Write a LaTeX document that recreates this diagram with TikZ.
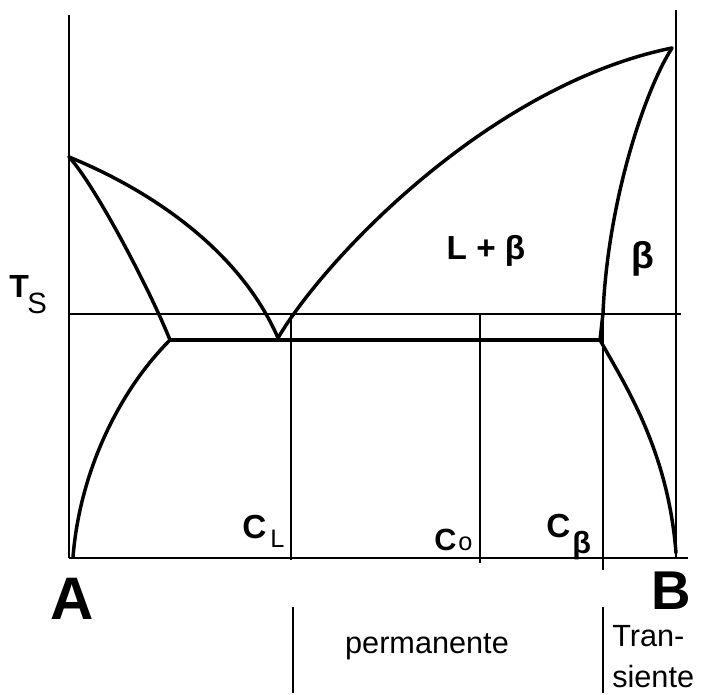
\documentclass[tikz,border=0pt]{standalone}
\usepackage{fontspec}
\setmainfont{Liberation Sans}
\begin{document}
\begin{tikzpicture}[x=0.75pt, y=-0.75pt,
	axis/.style={line width=0.8pt},
	curve/.style={line width=2.6pt, line join=round, line cap=round},
	guide/.style={line width=1.4pt},
	lbl/.style={inner sep=0pt, font=\fontsize{25}{28}\selectfont\bfseries}]
				\useasboundingbox (0,0) rectangle (706,695);

				% Key points
				\coordinate (meltA) at (69,157);
				\coordinate (meltB) at (672,48);
				\coordinate (eut) at (278,338);
				\coordinate (solA) at (170,340);
				\coordinate (solB) at (600,340);

				% Axes
				\draw[axis] (69,15) -- (69,558);
				\draw[axis] (676,10) -- (676,558);
				\draw[axis] (69,558) -- (688,558);

				% Temperature line
				\draw[guide] (69,314) -- (681,314);

				% Liquidus
				\draw[curve] (meltA) .. controls (150,190) and (240,250) .. (eut);
				\draw[curve] (eut) .. controls (325,258) and (490,85) .. (meltB);

				% Solidus
				\draw[curve] (meltA) .. controls (95,185) and (150,290) .. (solA);
				\draw[curve] (meltB) .. controls (645,90) and (608,200) .. (603,313) -- (solB);

				% Eutectic line
				\draw[curve] (solA) -- (solB);

				% Solvus
				\draw[curve] (solA) .. controls (120,390) and (80,470) .. (73,557);
				\draw[curve] (solB) .. controls (625,385) and (668,450) .. (676,553);

				% Compositions
				\draw[guide] (291,313) -- (291,560);
				\draw[guide] (480,313) -- (480,563);
				\draw[guide] (603,320) -- (603,570);
				\draw[guide] (293,607) -- (293,693);
				\draw[guide] (603,607) -- (603,693);

				% Labels
				\node[lbl, font=\fontsize{24}{26}\selectfont\bfseries, anchor=base west] (ts) at (9,297) {T};
				\node[inner sep=0pt, font=\fontsize{22}{24}\selectfont, anchor=base west] (tss) at (27,313) {S};
				\node[lbl, anchor=base] (lb) at (486,259) {L + β};
				\node[lbl, font=\fontsize{28}{30}\selectfont\bfseries, anchor=base] (b) at (643,268) {β};
				\node[lbl, font=\fontsize{25}{28}\selectfont\bfseries, anchor=base west] (ca) at (242,538) {C};
				\node[inner sep=0pt, font=\fontsize{19}{20}\selectfont, anchor=base west] (cl) at (270,547) {L};
				\node[lbl, font=\fontsize{23}{26}\selectfont\bfseries, anchor=base west] (co) at (434,550) {C};
				\node[inner sep=0pt, font=\fontsize{19}{20}\selectfont, anchor=base west] (coo) at (458,550) {o};
				\node[lbl, font=\fontsize{25}{28}\selectfont\bfseries, anchor=base west] (cb) at (546,537) {C};
				\node[inner sep=0pt, font=\fontsize{23}{24}\selectfont\bfseries, anchor=base west] (cbb) at (572,553) {β};
				\node[lbl, font=\fontsize{45}{48}\selectfont\bfseries, anchor=base] (a) at (72,619) {A};
				\node[lbl, font=\fontsize{41}{44}\selectfont\bfseries, anchor=base] (bb) at (671,609) {B};
				\node[inner sep=0pt, font=\fontsize{23}{26}\selectfont, anchor=base] (perm) at (427,653) {permanente};
				\node[inner sep=0pt, font=\fontsize{23}{31}\selectfont, align=left, anchor=north west] (trans) at (612,625) {Tran-\\siente};
			\end{tikzpicture}
\end{document}
